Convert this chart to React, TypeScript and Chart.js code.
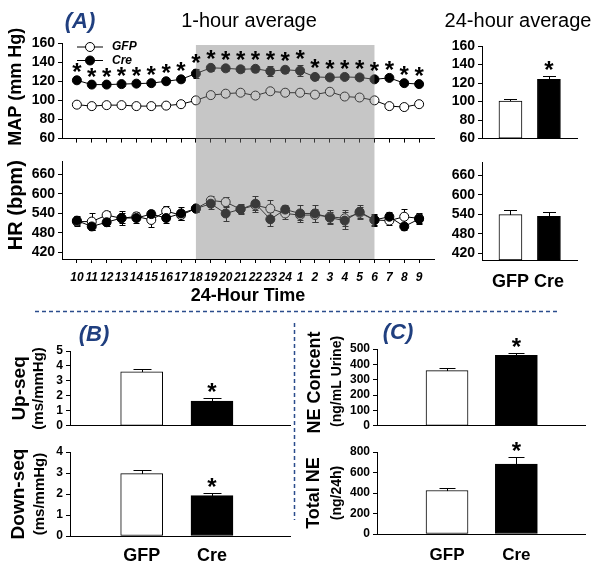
import React, { useEffect, useRef } from 'react';
import { Chart, registerables } from 'chart.js';
Chart.register(...registerables);

const FONT = "'Liberation Sans', Arial, Helvetica, sans-serif";
const NAVY = '#203f7f';

// ---------------- data ----------------
const hours = ['10', '11', '12', '13', '14', '15', '16', '17', '18', '19', '20', '21', '22', '23', '24', '1', '2', '3', '4', '5', '6', '7', '8', '9'];
const darkFrom = '18';
const darkTo = '6';
const mapGFP = [95.5, 94, 95, 95, 94, 94, 94.5, 96, 100, 105.5, 107, 108, 105, 109.5, 108, 108, 106, 109, 104, 103, 100, 94, 93, 96];
const mapGFPErr = [2, 2, 2, 2, 2, 2, 2, 2, 2.5, 2, 2, 2, 2, 2, 2, 2, 2, 2, 2, 2, 2.5, 3, 2, 2];
const mapCre = [121, 116.5, 116.5, 117, 117.5, 118, 120, 122, 128, 134, 133.5, 132.5, 133, 130.5, 132, 131, 124.5, 124, 124.5, 124, 122, 123.5, 118, 117];
const mapCreErr = [2, 2, 2, 2, 2, 2, 2, 2.5, 5, 3, 2.5, 3, 3, 5, 3, 6, 3, 3, 2.5, 2.5, 2, 2, 2, 2];
const mapSig = [true, true, true, true, true, true, true, true, true, true, true, true, true, true, true, true, true, true, true, true, true, true, true, true];
const hrGFP = [515, 515, 535, 525, 531, 520, 547, 535, 555, 580, 575, 553, 565, 555, 540, 535, 535, 530, 525, 542, 520, 518, 530, 525];
const hrGFPErr = [15, 25, 12, 15, 12, 22, 15, 15, 12, 15, 15, 15, 15, 25, 18, 15, 20, 20, 25, 18, 15, 15, 25, 15];
const hrCre = [518, 500, 513, 526, 526, 538, 526, 540, 555, 570, 540, 553, 570, 522, 552, 540, 540, 527, 518, 545, 520, 530, 500, 523];
const hrCreErr = [15, 12, 12, 22, 15, 12, 15, 20, 10, 15, 22, 12, 25, 22, 15, 25, 25, 18, 25, 20, 18, 15, 12, 15];
const hrSig = [false, false, false, false, false, false, false, false, false, false, false, false, false, false, false, false, false, false, false, false, false, false, false, false];

const groups = ['GFP', 'Cre'];
const mapTicks = [60, 80, 100, 120, 140, 160];
const hrTicks = [420, 480, 540, 600, 660];
const upTicks = [0, 1, 2, 3, 4, 5];
const downTicks = [0, 1, 2, 3, 4];
const neTicks = [0, 100, 200, 300, 400, 500];
const totTicks = [0, 200, 400, 600, 800];

const mapAvg = [100.5, 124];
const mapAvgErr = [2, 3.5];
const mapAvgSig = [false, true];
const hrAvg = [539, 534];
const hrAvgErr = [13, 12];
const hrAvgSig = [false, false];
const upSeq = [3.6, 1.66];
const upSeqErr = [0.22, 0.18];
const upSeqSig = [false, true];
const downSeq = [2.97, 1.92];
const downSeqErr = [0.19, 0.11];
const downSeqSig = [false, true];
const neConc = [359, 458];
const neConcErr = [20, 18];
const neConcSig = [false, true];
const totalNE = [424, 683];
const totalNEErr = [22, 68];
const totalNESig = [false, true];

// ---------------- plugin ----------------
type Cfg = {
  errors?: { ds: number; err: number[]; both: boolean; cap: number }[];
  stars?: { ds: number; sig: boolean[]; err: number[] }[];
  band?: { from: number; to: number; top: 'canvas' | 'area'; bottom: 'canvas' | 'area'; inset: number; color: string };
  legend?: { dx: number; dy: number; gap: number };
  titles?: { text: string; font: string; x: number; dy: number }[];
};

function val(chart: any, ds: number, i: number) {
  const d: any = chart.data.datasets[ds].data[i];
  return typeof d === 'number' ? d : d.y;
}

function extras(cfg: Cfg) {
  return {
    id: 'extras',
    beforeDatasetsDraw(chart: any) {
      const ctx = chart.ctx;
      const ys = chart.scales.y;
      (cfg.errors || []).forEach((e) => {
        const meta = chart.getDatasetMeta(e.ds);
        ctx.save();
        ctx.strokeStyle = '#000';
        ctx.lineWidth = 1;
        meta.data.forEach((el: any, i: number) => {
          const v = val(chart, e.ds, i);
          const x = Math.round(el.x) + 0.5;
          const t = Math.round(ys.getPixelForValue(v + e.err[i])) + 0.5;
          const b = Math.round(ys.getPixelForValue(e.both ? v - e.err[i] : v)) + 0.5;
          ctx.beginPath();
          ctx.moveTo(x, t);
          ctx.lineTo(x, b);
          ctx.moveTo(x - e.cap / 2, t);
          ctx.lineTo(x + e.cap / 2, t);
          if (e.both) {
            ctx.moveTo(x - e.cap / 2, b);
            ctx.lineTo(x + e.cap / 2, b);
          }
          ctx.stroke();
        });
        ctx.restore();
      });
    },
    afterDatasetsDraw(chart: any) {
      const b = cfg.band;
      if (!b) return;
      const ctx = chart.ctx;
      const xs = chart.scales.x;
      const ca = chart.chartArea;
      const x0 = xs.getPixelForValue(b.from);
      const x1 = xs.getPixelForValue(b.to);
      const y0 = b.top === 'canvas' ? 0 : ca.top + b.inset;
      const y1 = b.bottom === 'canvas' ? chart.height : ca.bottom;
      ctx.save();
      ctx.fillStyle = b.color;
      ctx.fillRect(x0, y0, x1 - x0, y1 - y0);
      ctx.restore();
    },
    afterDraw(chart: any) {
      const ctx = chart.ctx;
      const ys = chart.scales.y;
      const ca = chart.chartArea;
      (cfg.stars || []).forEach((s) => {
        const meta = chart.getDatasetMeta(s.ds);
        ctx.save();
        ctx.fillStyle = '#000';
        ctx.font = `bold 24px ${FONT}`;
        ctx.textAlign = 'center';
        ctx.textBaseline = 'alphabetic';
        meta.data.forEach((el: any, i: number) => {
          if (!s.sig[i]) return;
          const v = val(chart, s.ds, i);
          const t = ys.getPixelForValue(v + s.err[i]);
          ctx.fillText('*', el.x, t + 2);
        });
        ctx.restore();
      });
      if (cfg.legend) {
        const L = cfg.legend;
        ctx.save();
        chart.data.datasets.forEach((d: any, k: number) => {
          const y = ca.top + L.dy + k * L.gap;
          const lx = ca.left + L.dx;
          ctx.strokeStyle = '#000';
          ctx.lineWidth = 1;
          ctx.beginPath();
          ctx.moveTo(lx, y);
          ctx.lineTo(lx + 26, y);
          ctx.stroke();
          ctx.beginPath();
          ctx.arc(lx + 13, y, 4.5, 0, Math.PI * 2);
          ctx.fillStyle = d.pointBackgroundColor;
          ctx.fill();
          ctx.stroke();
          ctx.fillStyle = '#000';
          ctx.font = `italic bold 12px ${FONT}`;
          ctx.textAlign = 'left';
          ctx.textBaseline = 'middle';
          ctx.fillText(d.label, lx + 35, y);
        });
        ctx.restore();
      }
      (cfg.titles || []).forEach((t) => {
        ctx.save();
        ctx.translate(t.x, (ca.top + ca.bottom) / 2 + t.dy);
        ctx.rotate(-Math.PI / 2);
        ctx.font = `${t.font} ${FONT}`;
        ctx.fillStyle = '#000';
        ctx.textAlign = 'center';
        ctx.textBaseline = 'middle';
        ctx.fillText(t.text, 0, 0);
        ctx.restore();
      });
    },
  };
}

const BAND = 'rgba(128,128,128,0.45)';

// ---------------- chart configs ----------------
function lineCfg(p: {
  gfp: number[]; gfpErr: number[]; cre: number[]; creErr: number[]; sig: boolean[];
  min: number; max: number; ticks: number[]; showX: boolean; padTop: number; xH: number;
  band: Cfg['band']; legend?: Cfg['legend']; titles: Cfg['titles'];
}): any {
  return {
    type: 'line',
    data: {
      datasets: [
        {
          label: groups[0], data: p.gfp.map((y, i) => ({ x: i, y })), borderColor: '#000', borderWidth: 1,
          pointRadius: 4.5, pointBackgroundColor: '#fff', pointBorderColor: '#000', pointBorderWidth: 1, tension: 0, order: 1,
        },
        {
          label: groups[1], data: p.cre.map((y, i) => ({ x: i, y })), borderColor: '#000', borderWidth: 1,
          pointRadius: 4.5, pointBackgroundColor: '#000', pointBorderColor: '#000', pointBorderWidth: 1, tension: 0, order: 0,
        },
      ],
    },
    options: {
      responsive: false, animation: false, events: [],
      layout: { padding: { top: p.padTop, right: 6, left: 0, bottom: 0 } },
      plugins: { legend: { display: false }, tooltip: { enabled: false } },
      scales: {
        x: {
          type: 'linear', min: -1, max: hours.length, offset: false,
          afterBuildTicks: (s: any) => { s.ticks = hours.map((_, i) => ({ value: i })); },
          afterFit: (s: any) => { s.height = p.xH; },
          ticks: {
            display: p.showX, autoSkip: false, maxRotation: 0, minRotation: 0, padding: 7, color: '#000',
            font: { family: FONT, size: 12, weight: 'bold', style: 'italic' },
            callback: (v: any) => hours[v],
          },
          grid: { drawOnChartArea: false, drawTicks: true, tickLength: 4, color: '#000', offset: false },
          border: { display: true, color: '#000', width: 1 },
          title: p.showX
            ? { display: true, text: '24-Hour Time', color: '#000', font: { family: FONT, size: 18, weight: 'bold' }, padding: { top: 2, bottom: 3 } }
            : { display: false },
        },
        y: {
          min: p.min, max: p.max,
          afterBuildTicks: (s: any) => { s.ticks = p.ticks.map((v) => ({ value: v })); },
          afterFit: (s: any) => { s.width = 62; },
          ticks: { autoSkip: false, color: '#000', padding: 3, font: { family: FONT, size: 14, weight: 'bold' } },
          grid: { drawOnChartArea: false, tickLength: 4, color: '#000' },
          border: { display: true, color: '#000', width: 1 },
        },
      },
    },
    plugins: [extras({
      errors: [
        { ds: 0, err: p.gfpErr, both: true, cap: 6 },
        { ds: 1, err: p.creErr, both: true, cap: 6 },
      ],
      stars: [{ ds: 1, sig: p.sig, err: p.creErr }],
      band: p.band,
      legend: p.legend,
      titles: p.titles,
    })],
  };
}

function barCfg(p: {
  vals: number[]; errs: number[]; sig: boolean[]; min: number; max: number; ticks: number[];
  xMin: number; xMax: number; thick: number; yW: number; padTop: number; padRight: number; xH: number;
  showX: boolean; labelPad: number; labelSize: number; tickSize: number; cap: number; titles: Cfg['titles'];
}): any {
  return {
    type: 'bar',
    data: {
      datasets: [{
        data: p.vals.map((y, i) => ({ x: i, y })),
        backgroundColor: ['#fff', '#000'], borderColor: '#000', borderWidth: 1,
        barThickness: p.thick, base: p.min, borderSkipped: false,
      }],
    },
    options: {
      responsive: false, animation: false, events: [],
      layout: { padding: { top: p.padTop, right: p.padRight, left: 0, bottom: 0 } },
      plugins: { legend: { display: false }, tooltip: { enabled: false } },
      scales: {
        x: {
          type: 'linear', min: p.xMin, max: p.xMax, offset: false,
          afterBuildTicks: (s: any) => { s.ticks = groups.map((_, i) => ({ value: i })); },
          afterFit: (s: any) => { s.height = p.xH; },
          ticks: {
            display: p.showX, autoSkip: false, maxRotation: 0, minRotation: 0, padding: p.labelPad, color: '#000',
            font: { family: FONT, size: p.labelSize, weight: 'bold' },
            callback: (v: any) => groups[v],
          },
          grid: { display: true, drawOnChartArea: false, drawTicks: false, color: '#000', offset: false },
          border: { display: true, color: '#000', width: 1 },
        },
        y: {
          min: p.min, max: p.max,
          afterBuildTicks: (s: any) => { s.ticks = p.ticks.map((v) => ({ value: v })); },
          afterFit: (s: any) => { s.width = p.yW; },
          ticks: { autoSkip: false, color: '#000', padding: 3, font: { family: FONT, size: p.tickSize, weight: 'bold' } },
          grid: { drawOnChartArea: false, tickLength: 4, color: '#000' },
          border: { display: true, color: '#000', width: 1 },
        },
      },
    },
    plugins: [extras({
      errors: [{ ds: 0, err: p.errs, both: false, cap: p.cap }],
      stars: [{ ds: 0, sig: p.sig, err: p.errs }],
      titles: p.titles,
    })],
  };
}

// ---------------- components ----------------
const ChartCanvas = ({ x, y, w, h, make }: { x: number; y: number; w: number; h: number; make: () => any }) => {
  const ref = useRef<HTMLCanvasElement>(null);
  useEffect(() => {
    const chart = new Chart(ref.current as HTMLCanvasElement, make());
    return () => chart.destroy();
  }, []);
  return <canvas ref={ref} width={w} height={h} style={{ position: 'absolute', left: x, top: y, width: w, height: h }} />;
};

const Text = ({ x, y, children, style }: any) => (
  <div style={{
    position: 'absolute', left: x, top: y, transform: 'translate(-50%, -50%)', whiteSpace: 'nowrap',
    fontFamily: FONT, lineHeight: 1, color: '#000', ...style,
  }}>{children}</div>
);

const bandFrom = hours.indexOf(darkFrom);
const bandTo = hours.indexOf(darkTo);

export default function App() {
  const panelLabel = { fontWeight: 'bold', fontStyle: 'italic', fontSize: 22, color: NAVY };
  return (
    <div style={{ position: 'absolute', left: 0, top: 0, width: 604, height: 569, background: '#fff', overflow: 'hidden' }}>
      <ChartCanvas x={0} y={0} w={440} h={150} make={() => lineCfg({
        gfp: mapGFP, gfpErr: mapGFPErr, cre: mapCre, creErr: mapCreErr, sig: mapSig,
        min: 60, max: 160, ticks: mapTicks, showX: false, padTop: 43, xH: 8,
        band: { from: bandFrom, to: bandTo, top: 'area', bottom: 'canvas', inset: 2, color: BAND },
        legend: { dx: 15, dy: 4, gap: 13.5 },
        titles: [{ text: 'MAP (mm Hg)', font: 'bold 18px', x: 16, dy: -4 }],
      })} />
      <ChartCanvas x={0} y={150} w={440} h={160} make={() => lineCfg({
        gfp: hrGFP, gfpErr: hrGFPErr, cre: hrCre, creErr: hrCreErr, sig: hrSig,
        min: 400, max: 700, ticks: hrTicks, showX: true, padTop: 9, xH: 51,
        band: { from: bandFrom, to: bandTo, top: 'canvas', bottom: 'area', inset: 0, color: BAND },
        titles: [{ text: 'HR (bpm)', font: 'bold 20px', x: 16, dy: -5 }],
      })} />
      <ChartCanvas x={440} y={0} w={164} h={150} make={() => barCfg({
        vals: mapAvg, errs: mapAvgErr, sig: mapAvgSig, min: 60, max: 160, ticks: mapTicks,
        xMin: -0.74, xMax: 1.73, thick: 23, yW: 42, padTop: 46, padRight: 27, xH: 6,
        showX: false, labelPad: 0, labelSize: 18, tickSize: 14, cap: 13, titles: [],
      })} />
      <ChartCanvas x={440} y={150} w={164} h={160} make={() => barCfg({
        vals: hrAvg, errs: hrAvgErr, sig: hrAvgSig, min: 400, max: 700, ticks: hrTicks,
        xMin: -0.74, xMax: 1.73, thick: 23, yW: 42, padTop: 12, padRight: 27, xH: 50,
        showX: true, labelPad: 11, labelSize: 18, tickSize: 14, cap: 13, titles: [],
      })} />
      <ChartCanvas x={0} y={330} w={300} h={106} make={() => barCfg({
        vals: upSeq, errs: upSeqErr, sig: upSeqSig, min: 0, max: 5, ticks: upTicks,
        xMin: -1.02, xMax: 2.11, thick: 42, yW: 70, padTop: 21, padRight: 10, xH: 2,
        showX: false, labelPad: 0, labelSize: 18, tickSize: 12, cap: 18,
        titles: [
          { text: 'Up-seq', font: 'bold 19px', x: 20, dy: 0 },
          { text: '(ms/mmHg)', font: 'bold 15px', x: 39, dy: 0 },
        ],
      })} />
      <ChartCanvas x={0} y={440} w={300} h={129} make={() => barCfg({
        vals: downSeq, errs: downSeqErr, sig: downSeqSig, min: 0, max: 4, ticks: downTicks,
        xMin: -1.02, xMax: 2.11, thick: 42, yW: 70, padTop: 12, padRight: 10, xH: 33,
        showX: true, labelPad: 9, labelSize: 18, tickSize: 12, cap: 18,
        titles: [
          { text: 'Down-seq', font: 'bold 19px', x: 19, dy: 0 },
          { text: '(ms/mmHg)', font: 'bold 15px', x: 40, dy: 0 },
        ],
      })} />
      <ChartCanvas x={300} y={330} w={304} h={106} make={() => barCfg({
        vals: neConc, errs: neConcErr, sig: neConcSig, min: 0, max: 500, ticks: neTicks,
        xMin: -1.01, xMax: 1.99, thick: 42, yW: 77, padTop: 19, padRight: 19, xH: 4,
        showX: false, labelPad: 0, labelSize: 17, tickSize: 12, cap: 16,
        titles: [
          { text: 'NE Concent', font: 'bold 18px', x: 15, dy: -5 },
          { text: '(ng/mL Urine)', font: 'bold 14px', x: 37.5, dy: -6 },
        ],
      })} />
      <ChartCanvas x={300} y={440} w={304} h={129} make={() => barCfg({
        vals: totalNE, errs: totalNEErr, sig: totalNESig, min: 0, max: 800, ticks: totTicks,
        xMin: -1.01, xMax: 1.99, thick: 42, yW: 77, padTop: 12, padRight: 19, xH: 35,
        showX: true, labelPad: 11, labelSize: 17, tickSize: 12, cap: 16,
        titles: [
          { text: 'Total NE', font: 'bold 18px', x: 14, dy: 0 },
          { text: '(ng/24h)', font: 'bold 14px', x: 37, dy: 0 },
        ],
      })} />

      <Text x={80} y={21} style={panelLabel}>(A)</Text>
      <Text x={249} y={20} style={{ fontSize: 20 }}>1-hour average</Text>
      <Text x={518} y={20} style={{ fontSize: 20 }}>24-hour average</Text>
      <Text x={94} y={334} style={panelLabel}>(B)</Text>
      <Text x={398} y={332} style={panelLabel}>(C)</Text>

      <svg width={604} height={569} style={{ position: 'absolute', left: 0, top: 0, pointerEvents: 'none' }}>
        <line x1={35} y1={311.5} x2={557} y2={311.5} stroke="#2b4c8c" strokeWidth={1.5} strokeDasharray="4 3" />
        <line x1={294.5} y1={323} x2={294.5} y2={520} stroke="#2b4c8c" strokeWidth={1.5} strokeDasharray="4 3" />
      </svg>
    </div>
  );
}
